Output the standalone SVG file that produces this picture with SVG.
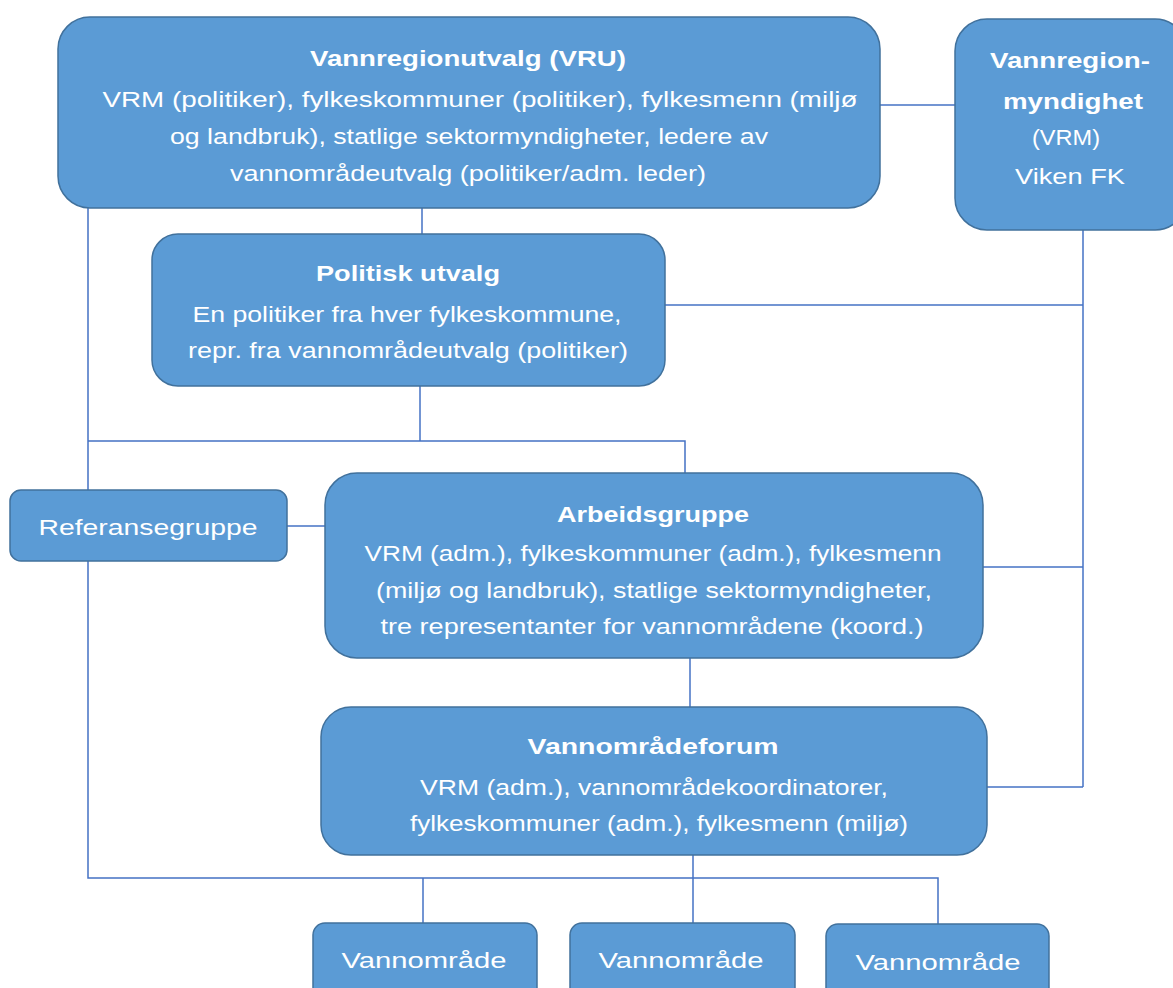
<svg xmlns="http://www.w3.org/2000/svg" width="1173" height="988" viewBox="0 0 1173 988">
<style>
.box{fill:#5B9BD5;stroke:#41719C;stroke-width:1.5}
.ln{stroke:#4472C4;stroke-width:1.5;fill:none}
text{font-family:"Liberation Sans",Arial,sans-serif;font-size:22px;fill:#FFFFFF;text-anchor:middle}
.t{font-weight:bold}
</style>
<rect width="1173" height="988" fill="#FFFFFF"/>
<g id="connectors">
<line class="ln" x1="880" y1="105" x2="955" y2="105"/>
<line class="ln" x1="1083" y1="230" x2="1083" y2="787"/>
<line class="ln" x1="665" y1="305" x2="1083" y2="305"/>
<line class="ln" x1="983" y1="567" x2="1083" y2="567"/>
<line class="ln" x1="986" y1="787" x2="1083" y2="787"/>
<line class="ln" x1="422" y1="208" x2="422" y2="234"/>
<line class="ln" x1="420" y1="386" x2="420" y2="441"/>
<polyline class="ln" points="88,441 685,441 685,473"/>
<polyline class="ln" points="88,208 88,878 938,878 938,924"/>
<line class="ln" x1="287" y1="526" x2="325" y2="526"/>
<line class="ln" x1="690" y1="658" x2="690" y2="707"/>
<line class="ln" x1="423" y1="878" x2="423" y2="923"/>
<line class="ln" x1="693" y1="855" x2="693" y2="923"/>
</g>
<g id="vru">
<rect class="box" x="58" y="17" width="822" height="191" rx="32"/>
<text class="t" x="468" y="66" textLength="316" lengthAdjust="spacingAndGlyphs">Vannregionutvalg (VRU)</text>
<text x="480" y="107" textLength="755" lengthAdjust="spacingAndGlyphs">VRM (politiker), fylkeskommuner (politiker), fylkesmenn (miljø</text>
<text x="469" y="144" textLength="598" lengthAdjust="spacingAndGlyphs">og landbruk), statlige sektormyndigheter, ledere av</text>
<text x="468" y="181" textLength="476" lengthAdjust="spacingAndGlyphs">vannområdeutvalg (politiker/adm. leder)</text>
</g>
<g id="vrm">
<rect class="box" x="955" y="19" width="232" height="211" rx="32"/>
<text class="t" x="1070" y="68" textLength="160" lengthAdjust="spacingAndGlyphs">Vannregion-</text>
<text class="t" x="1073" y="109" textLength="140" lengthAdjust="spacingAndGlyphs">myndighet</text>
<text x="1066" y="145" textLength="68" lengthAdjust="spacingAndGlyphs">(VRM)</text>
<text x="1070" y="184" textLength="110" lengthAdjust="spacingAndGlyphs">Viken FK</text>
</g>
<g id="politisk">
<rect class="box" x="152" y="234" width="513" height="152" rx="26"/>
<text class="t" x="408" y="281" textLength="184" lengthAdjust="spacingAndGlyphs">Politisk utvalg</text>
<text x="407" y="322" textLength="429" lengthAdjust="spacingAndGlyphs">En politiker fra hver fylkeskommune,</text>
<text x="408" y="358" textLength="440" lengthAdjust="spacingAndGlyphs">repr. fra vannområdeutvalg (politiker)</text>
</g>
<g id="referansegruppe">
<rect class="box" x="10" y="490" width="277" height="71" rx="11"/>
<text x="148" y="535" textLength="219" lengthAdjust="spacingAndGlyphs">Referansegruppe</text>
</g>
<g id="arbeidsgruppe">
<rect class="box" x="325" y="473" width="658" height="185" rx="32"/>
<text class="t" x="653" y="522" textLength="192" lengthAdjust="spacingAndGlyphs">Arbeidsgruppe</text>
<text x="653" y="561" textLength="577" lengthAdjust="spacingAndGlyphs">VRM (adm.), fylkeskommuner (adm.), fylkesmenn</text>
<text x="654" y="598" textLength="556" lengthAdjust="spacingAndGlyphs">(miljø og landbruk), statlige sektormyndigheter,</text>
<text x="652" y="634" textLength="543" lengthAdjust="spacingAndGlyphs">tre representanter for vannområdene (koord.)</text>
</g>
<g id="vannomradeforum">
<rect class="box" x="321" y="707" width="666" height="148" rx="30"/>
<text class="t" x="653" y="754" textLength="251" lengthAdjust="spacingAndGlyphs">Vannområdeforum</text>
<text x="654" y="795" textLength="468" lengthAdjust="spacingAndGlyphs">VRM (adm.), vannområdekoordinatorer,</text>
<text x="659" y="831" textLength="498" lengthAdjust="spacingAndGlyphs">fylkeskommuner (adm.), fylkesmenn (miljø)</text>
</g>
<g id="vannomrade1">
<rect class="box" x="313" y="923" width="224" height="80" rx="12"/>
<text x="424" y="968" textLength="165" lengthAdjust="spacingAndGlyphs">Vannområde</text>
</g>
<g id="vannomrade2">
<rect class="box" x="570" y="923" width="225" height="80" rx="12"/>
<text x="681" y="968" textLength="165" lengthAdjust="spacingAndGlyphs">Vannområde</text>
</g>
<g id="vannomrade3">
<rect class="box" x="826" y="924" width="223" height="80" rx="12"/>
<text x="938" y="970" textLength="165" lengthAdjust="spacingAndGlyphs">Vannområde</text>
</g>
</svg>
